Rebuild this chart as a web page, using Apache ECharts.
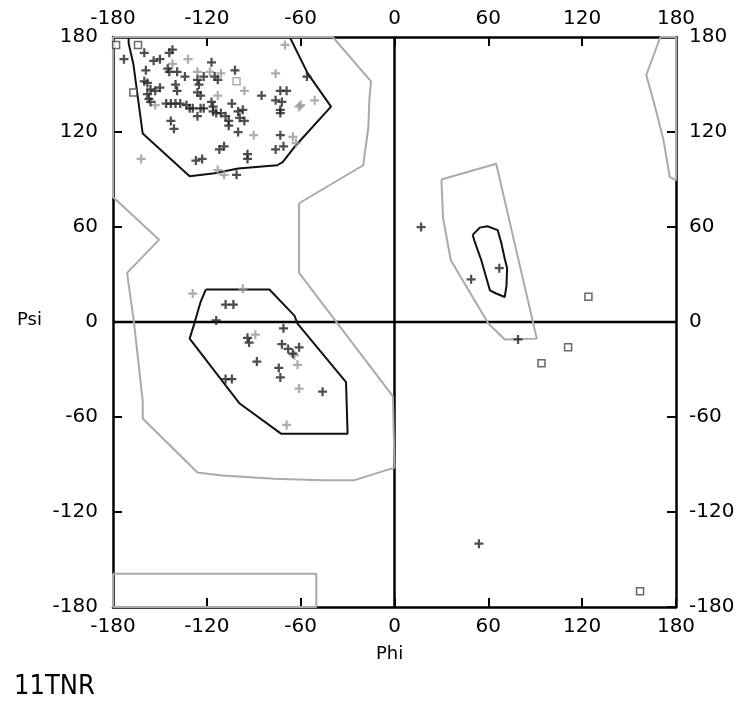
<!DOCTYPE html>
<html>
<head>
<meta charset="utf-8">
<script src="https://cdn.jsdelivr.net/npm/echarts@6/dist/echarts.min.js"></script>
<style>
  html, body { margin: 0; padding: 0; background: #fff; }
  #chart { width: 753px; height: 711px; }
</style>
</head>
<body>
<div id="chart"></div>
<script>
// phi / psi pairs
let darkCrosses = [
    [-173,166],[-160,170],[-154,165],[-150,166],[-144,170],[-142,172],[-159,159],[-145,160],[-144,158],
    [-139,158],[-134,155],[-117,164],[-102,159],[-160,152],[-158,151],[-156,147],[-153,146],[-158,144],
    [-157,141],[-156,139],[-150,148],[-140,150],[-139,146],[-126,153],[-125,150],[-126,145],[-124,143],
    [-122,155],[-115,155],[-113,153],[-146,138],[-143,138],[-140,138],[-137,138],[-133,137],[-131,135],
    [-129,135],[-124,135],[-122,135],[-117,139],[-116,136],[-116,133],[-114,132],[-111,132],[-108,130],
    [-106,127],[-104,138],[-100,133],[-99,129],[-97,134],[-96,127],[-106,124],[-100,120],[-143,127],
    [-141,122],[-126,130],[-85,143],[-76,140],[-72,139],[-73,134],[-73,132],[-73,118],[-71,111],[-76,109],
    [-109,111],[-112,109],[-123,103],[-127,102],[-101,93],[-94,106],[-94,103],[-56,155],[-73,146],[-69,146],
    [-108,11],[-103,11],[-114,1],[-94,-10],[-93,-13],[-71,-4],[-72,-14],[-68,-17],[-65,-20],[-61,-16],
    [-88,-25],[-74,-29],[-73,-35],[-108,-36],[-104,-36],[-46,-44],
    [17,60],[49,27],[67,34],[79,-11],[54,-140]
];
let grayCrosses = [
    [-132,166],[-142,163],[-126,158],[-118,158],[-111,157],[-96,146],[-113,143],[-153,137],[-76,157],
    [-60,137],[-51,140],[-90,118],[-65,117],[-63,113],[-113,96],[-109,93],[-162,103],[-70,175],[-61,136],
    [-129,18],[-97,21],[-89,-8],[-64,-21],[-62,-27],[-61,-42],[-69,-65]
];
let darkSquares = [[-178,175],[-164,175],[-167,145],[124,16],[111,-16],[94,-26],[157,-170]];
let graySquares = [[-101,152]];

// contour outlines
let coreBeta = [
    [-170,180],[-170,176],[-167,163],[-161,119],[-131,92],[-115,94],[-100,97],[-75,99],[-71.5,101],
    [-64,110.5],[-40.6,136],[-55.5,157],[-67,180],[-170,180]
];
let coreAlphaR = [
    [-120.7,20.5],[-80,20.5],[-64,4],[-62,-1],[-31,-38],[-30,-70.5],[-72.6,-70.5],[-99,-51.5],
    [-131,-10.5],[-128,-1],[-124,12.6],[-120.7,20.5]
];
let coreAlphaL = [
    [50,55],[54.5,59.6],[59.4,60.5],[66,58],[68.4,49.5],[70.5,40],[72,34],[71.6,23],[70.5,15.8],
    [65,18],[61,20],[55.5,39],[51,51.6],[50,55]
];
let allowedLeft = [
    [-180,180],[-39.5,180],[-15,152],[-16,142],[-16.7,123],[-20,99],[-61,75],[-61,31],[-1,-47],[0,-47],
    [0,-92],[-26,-100],[-46,-100],[-77,-99],[-110,-97],[-126,-95],[-161,-61],[-161,-50],[-166.5,-1],
    [-171,31],[-150.5,52],[-180,79],[-180,180]
];
let allowedBottom = [[-180,-159],[-50,-159],[-50,-180],[-180,-180],[-180,-159]];
let allowedRight = [[170,180],[161,156],[166.6,136],[172,115],[176,91.6],[180,89.5],[180,180],[170,180]];
let allowedAlphaL = [[30,90],[65,100],[91,-10.5],[70.5,-11],[60,-1],[36,39],[31,66],[30,90]];

let zeroPhi = [[0,-180],[0,180]];
let zeroPsi = [[-180,0],[180,0]];

let plusSymbol = 'path://M3,0h2v3h3v2h-3v3h-2v-3h-3v-2h3z';
let labelFont = { fontFamily: 'DejaVu Sans', fontSize: 20, color: '#000' };

function makeAxis(position, margin) {
    return {
        type: 'value',
        position: position,
        min: -180,
        max: 180,
        interval: 60,
        axisLine: { show: true, onZero: false, lineStyle: { color: '#000', width: 2.5 } },
        axisTick: { show: true, inside: true, length: 9, lineStyle: { color: '#000', width: 2 } },
        axisLabel: Object.assign({ margin: margin, showMinLabel: true, showMaxLabel: true }, labelFont),
        splitLine: { show: false }
    };
}

function outline(data, color, width, z) {
    return {
        type: 'line',
        data: data,
        symbol: 'none',
        clip: false,
        silent: true,
        z: z,
        lineStyle: { color: color, width: width }
    };
}

let myChart = echarts.init(document.getElementById('chart'));
let option = {
    backgroundColor: '#fff',
    animation: false,
    grid: { left: 113, right: 77, top: 37, bottom: 104 },
    xAxis: [makeAxis('bottom', 10), makeAxis('top', 8)],
    yAxis: [makeAxis('left', 15), makeAxis('right', 13)],
    graphic: [
        { type: 'text', left: 17, top: 311, style: { text: 'Psi', font: '18px "DejaVu Sans"', fill: '#000' } },
        { type: 'text', left: 376, top: 645, style: { text: 'Phi', font: '18px "DejaVu Sans"', fill: '#000' } },
        { type: 'text', left: 14, top: 673, style: { text: '11TNR', font: '27px "Liberation Sans Narrow", "DejaVu Sans Condensed", sans-serif', fill: '#000' } }
    ],
    series: [
        outline(zeroPhi, '#000', 2.5, 3),
        outline(zeroPsi, '#000', 2.5, 3),
        outline(coreBeta, '#111', 2, 4),
        outline(coreAlphaR, '#111', 2, 4),
        outline(coreAlphaL, '#111', 2, 4),
        outline(allowedLeft, '#aaa', 2, 5),
        outline(allowedBottom, '#aaa', 2, 5),
        outline(allowedRight, '#aaa', 2, 5),
        outline(allowedAlphaL, '#aaa', 2, 5),
        {
            type: 'scatter', data: grayCrosses, symbol: plusSymbol, symbolSize: 9, clip: false, z: 6,
            itemStyle: { color: '#999' }
        },
        {
            type: 'scatter', data: darkCrosses, symbol: plusSymbol, symbolSize: 9, clip: false, z: 7,
            itemStyle: { color: '#222' }
        },
        {
            type: 'scatter', data: darkSquares, symbol: 'rect', symbolSize: 7, clip: false, z: 7,
            itemStyle: { color: '#fff', borderColor: '#444', borderWidth: 1.5 }
        },
        {
            type: 'scatter', data: graySquares, symbol: 'rect', symbolSize: 7, clip: false, z: 7,
            itemStyle: { color: '#fff', borderColor: '#999', borderWidth: 1.5 }
        }
    ]
};
myChart.setOption(option);
</script>
</body>
</html>
